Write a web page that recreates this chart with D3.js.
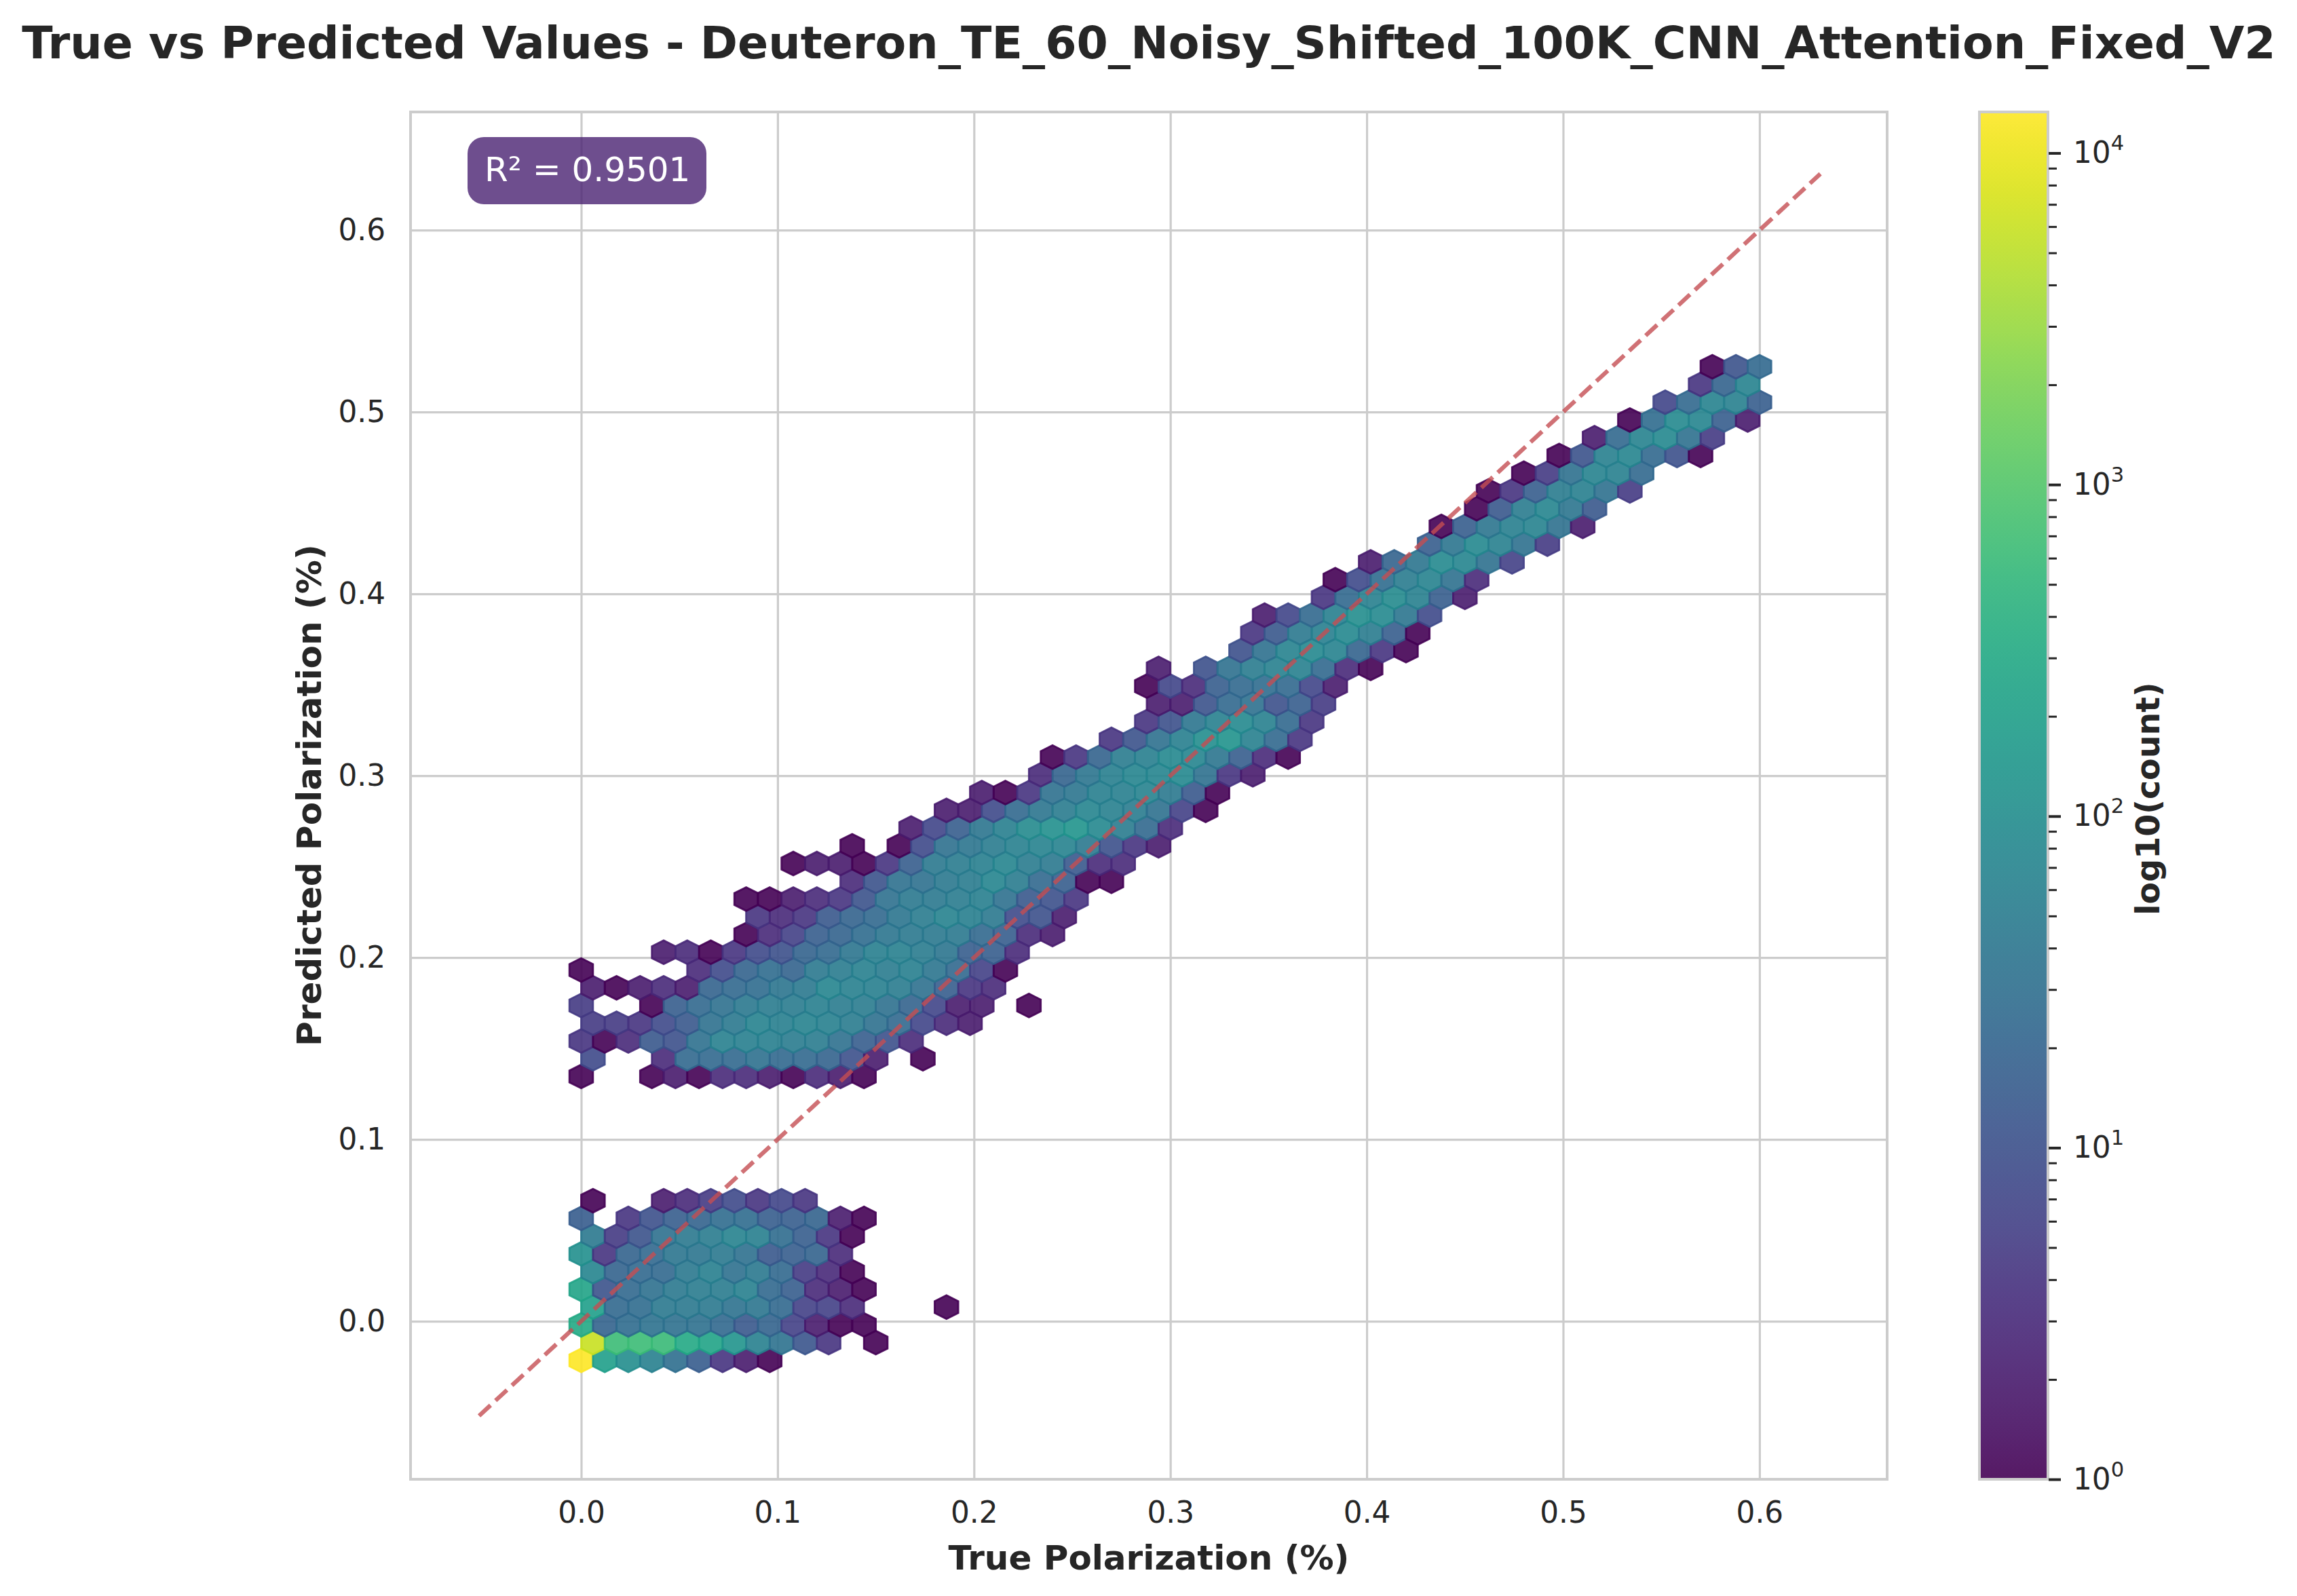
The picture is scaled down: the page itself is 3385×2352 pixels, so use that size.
<!DOCTYPE html>
<html><head><meta charset="utf-8">
<script src="https://cdn.jsdelivr.net/npm/d3@7"></script>
<style>html,body{margin:0;padding:0;background:#fff}svg{display:block}text{font-family:"DejaVu Sans";fill:#262626}</style>
</head><body><svg id="c" width="3385" height="2352"></svg>
<script>
const titleText = "True vs Predicted Values - Deuteron_TE_60_Noisy_Shifted_100K_CNN_Attention_Fixed_V2";
const xLabel = "True Polarization (%)", yLabel = "Predicted Polarization (%)", cbLabel = "log10(count)";
const r2Label = "R² = 0.9501";
const axisTicks = [0, 0.1, 0.2, 0.3, 0.4, 0.5, 0.6];
const axisLimits = [-0.0869, 0.665];
const identityEnds = [-0.052, 0.631];
const cbDomain = [1, 13300];
const cbDecades = [1, 10, 100, 1000, 10000];
const gridX = 50, gridY = 28;
const binX = [0, 0.6], binY = [-0.0215, 0.5249];
// first occupied column of each hexbin row (row 0 = lowest)
const rowStart = [0,0,0,0,0,0,0,0,0,0,0,0,0,0,0,0,0,0,0,0,0,0,0,3,7,7,7,11,9,11,14,15,17,19,20,22,24,24,24,24,28,28,29,31,32,33,36,36,38,38,40,41,43,44,46,47,48];
// counts per row, 0 = empty cell
const rowCounts = [
[13000,200,100,60,30,15,4,2,1],
[6000,640,640,600,300,250,130,60,35,12,4,0,1],
[300,20,28,35,32,32,24,13,20,6,2,1,1],
[200,24,28,44,44,44,35,38,24,6,6,3,0,0,0,1],
[250,11,24,32,44,50,50,60,24,16,3,2,1],
[72,20,24,24,44,55,32,44,24,5,3,1],
[110,4,20,24,38,38,44,32,13,16,20,3],
[44,5,11,32,44,50,68,55,28,16,4,1],
[15,0,4,10,16,20,28,28,16,16,20,2,1],
[1,0,0,2,3,5,8,4,7,4],
[],[],[],[],[],[],
[1,0,0,1,2,1,3,3,2,1,3,2,1],
[8,0,0,3,24,24,24,32,24,24,20,10,2,0,1],
[4,1,3,13,10,32,60,55,55,50,50,32,16,10,3],
[5,5,4,8,13,32,44,68,55,68,60,50,32,24,7,3,2],
[5,0,0,1,16,24,32,44,50,50,55,50,50,32,20,7,2,2,0,1],
[2,1,2,3,2,20,24,28,38,44,72,60,55,50,32,16,4,3],
[1,0,0,0,0,3,8,20,28,20,44,50,60,50,55,38,24,6,1],
[2,3,1,4,8,10,20,24,38,55,60,50,38,16,16,3],
[1,3,6,16,20,28,38,44,44,44,24,16,3,2],
[4,3,4,13,20,24,38,50,68,55,44,8,10,2],
[1,1,2,3,4,11,32,44,44,50,55,32,13,10,4],
[3,11,32,32,44,50,72,50,24,16,1,1],
[1,2,2,1,4,16,44,50,55,72,50,44,13,3,3],
[1,0,1,8,32,38,50,60,68,68,44,10,4,2],
[2,7,16,38,55,90,110,130,80,50,24,3],
[2,2,8,24,38,50,72,60,50,32,6,1],
[2,1,4,32,38,55,55,68,44,13,1],
[3,20,38,55,72,72,80,32,4,2],
[1,4,20,50,55,80,72,38,16,3,1],
[4,11,32,55,100,120,60,24,4],
[4,10,38,60,85,60,24,4],
[2,2,11,24,32,10,16,5],
[1,7,3,16,24,28,24,7,2],
[2,0,10,32,50,60,60,24,3,1],
[10,32,68,80,68,20,4,1],
[4,13,44,55,80,50,16,1],
[2,7,24,55,100,85,38,8],
[4,24,60,90,60,16,2],
[1,8,28,50,68,32,3],
[2,20,38,85,72,32,6],
[16,38,80,60,32,5],
[1,16,38,55,68,32,2],
[1,13,50,72,38,13],
[1,4,16,50,55,32,5],
[1,5,32,68,60,24],
[1,11,60,72,24,10,1],
[2,24,68,80,32,5],
[1,28,85,72,16,2],
[7,24,68,60,16],
[4,20,68],
[1,11,24]
];

const svg = d3.select("#c");
const box = {l:605, r:2781, t:165, b:2180};
const cb = {l:2917, r:3018};
const x = d3.scaleLinear().domain(axisLimits).range([box.l, box.r]);
const y = d3.scaleLinear().domain(axisLimits).range([box.b, box.t]);
const color = d3.scaleLog().domain(cbDomain).range([0,1]);
const FS = 43.75;

svg.append("rect").attr("width",3385).attr("height",2352).attr("fill","#fff");
// grid
const gx = svg.append("g").attr("transform",`translate(0,${box.b})`)
  .call(d3.axisBottom(x).tickValues(axisTicks).tickSize(-(box.b-box.t)).tickPadding(33).tickFormat(d3.format(".1f")));
const gy = svg.append("g").attr("transform",`translate(${box.l},0)`)
  .call(d3.axisLeft(y).tickValues(axisTicks).tickSize(-(box.r-box.l)).tickPadding(37).tickFormat(d3.format(".1f")));
[gx,gy].forEach(g=>{g.select(".domain").remove();
  g.selectAll("line").attr("stroke","#cccccc").attr("stroke-width",3.2);
  g.selectAll("text").attr("font-size",FS).attr("fill","#262626").style("font-family",'"DejaVu Sans"');});

// hexbin
const sx = (binX[1]-binX[0])/gridX, sy = (binY[1]-binY[0])/gridY;
const hexShape = [[.5,-.5/3],[.5,.5/3],[0,1/3],[-.5,.5/3],[-.5,-.5/3],[0,-1/3]];
const hexes = [];
rowCounts.forEach((vals,r)=>vals.forEach((n,i)=>{ if(!n) return;
  const c = rowStart[r]+i;
  hexes.push({cx:binX[0]+sx*(c+(r%2?.5:0)), cy:binY[0]+sy*r/2, n});
}));
const hexPath = d3.line().x(p=>x(p[0])).y(p=>y(p[1])).curve(d3.curveLinearClosed);
svg.append("g").selectAll("path").data(hexes).join("path")
  .attr("d",d=>hexPath(hexShape.map(v=>[d.cx+v[0]*sx,d.cy+v[1]*sy])))
  .attr("fill",d=>d3.interpolateViridis(color(d.n)))
  .attr("stroke",d=>d3.interpolateViridis(color(d.n)))
  .attr("fill-opacity",.9).attr("stroke-opacity",.9).attr("stroke-width",2.8);

// identity
svg.append("path").attr("d",d3.line().x(d=>x(d)).y(d=>y(d))(identityEnds))
  .attr("fill","none").attr("stroke","#c44e52").attr("stroke-opacity",.8)
  .attr("stroke-width",6.25).attr("stroke-dasharray","23,10");

// frame
svg.append("rect").attr("x",box.l).attr("y",box.t).attr("width",box.r-box.l).attr("height",box.b-box.t)
  .attr("fill","none").attr("stroke","#cccccc").attr("stroke-width",4);

// r2 box
svg.append("rect").attr("x",689).attr("y",202).attr("width",352).attr("height",99).attr("rx",24)
  .attr("fill","#4a2272").attr("fill-opacity",.8);
svg.append("text").attr("x",714).attr("y",267).attr("font-size",50).style("fill","#fff").text(r2Label);

// colorbar
const cbY = d3.scaleLog().domain(cbDomain).range([box.b,box.t]);
const defs = svg.append("defs");
const grad = defs.append("linearGradient").attr("id","vir").attr("x1",0).attr("x2",0).attr("y1",1).attr("y2",0);
d3.range(0,1.0001,.02).forEach(t=>grad.append("stop").attr("offset",t).attr("stop-color",d3.interpolateViridis(t)));
svg.append("rect").attr("x",cb.l).attr("y",box.t).attr("width",cb.r-cb.l).attr("height",box.b-box.t)
  .attr("fill","url(#vir)").attr("fill-opacity",.9);
svg.append("rect").attr("x",cb.l).attr("y",box.t).attr("width",cb.r-cb.l).attr("height",box.b-box.t)
  .attr("fill","none").attr("stroke","#cccccc").attr("stroke-width",4);
const minor = cbDecades.flatMap(d=>d3.range(2,10).map(m=>m*d)).filter(v=>v<=cbDomain[1]);
const gm = svg.append("g").attr("transform",`translate(${cb.r+1},0)`)
  .call(d3.axisRight(cbY).tickValues(minor).tickSize(12).tickFormat(""));
gm.select(".domain").remove(); gm.selectAll("line").attr("stroke","#262626").attr("stroke-width",3);
const gc = svg.append("g").attr("transform",`translate(${cb.r+1},0)`)
  .call(d3.axisRight(cbY).tickValues(cbDecades).tickSize(18).tickPadding(18).tickFormat(""));
gc.select(".domain").remove(); gc.selectAll("line").attr("stroke","#262626").attr("stroke-width",4);
gc.selectAll("text").each(function(d){
  const t=d3.select(this).attr("font-size",FS).attr("fill","#262626").style("font-family",'"DejaVu Sans"').attr("dy",".32em");
  t.append("tspan").text("10");
  t.append("tspan").attr("font-size",FS*.7).attr("dy","-0.62em").text(Math.round(Math.log10(d)));
});

// labels
svg.append("text").attr("x",1693).attr("y",86).attr("text-anchor","middle").attr("font-size",66.6).attr("font-weight","bold").text(titleText);
svg.append("text").attr("x",1693).attr("y",2313).attr("text-anchor","middle").attr("font-size",50).attr("font-weight","bold").text(xLabel);
svg.append("text").attr("transform",`translate(473,1172) rotate(-90)`).attr("text-anchor","middle").attr("font-size",50).attr("font-weight","bold").text(yLabel);
svg.append("text").attr("transform",`translate(3182,1177) rotate(-90)`).attr("text-anchor","middle").attr("font-size",47.5).attr("font-weight","bold").text(cbLabel);
</script></body></html>
